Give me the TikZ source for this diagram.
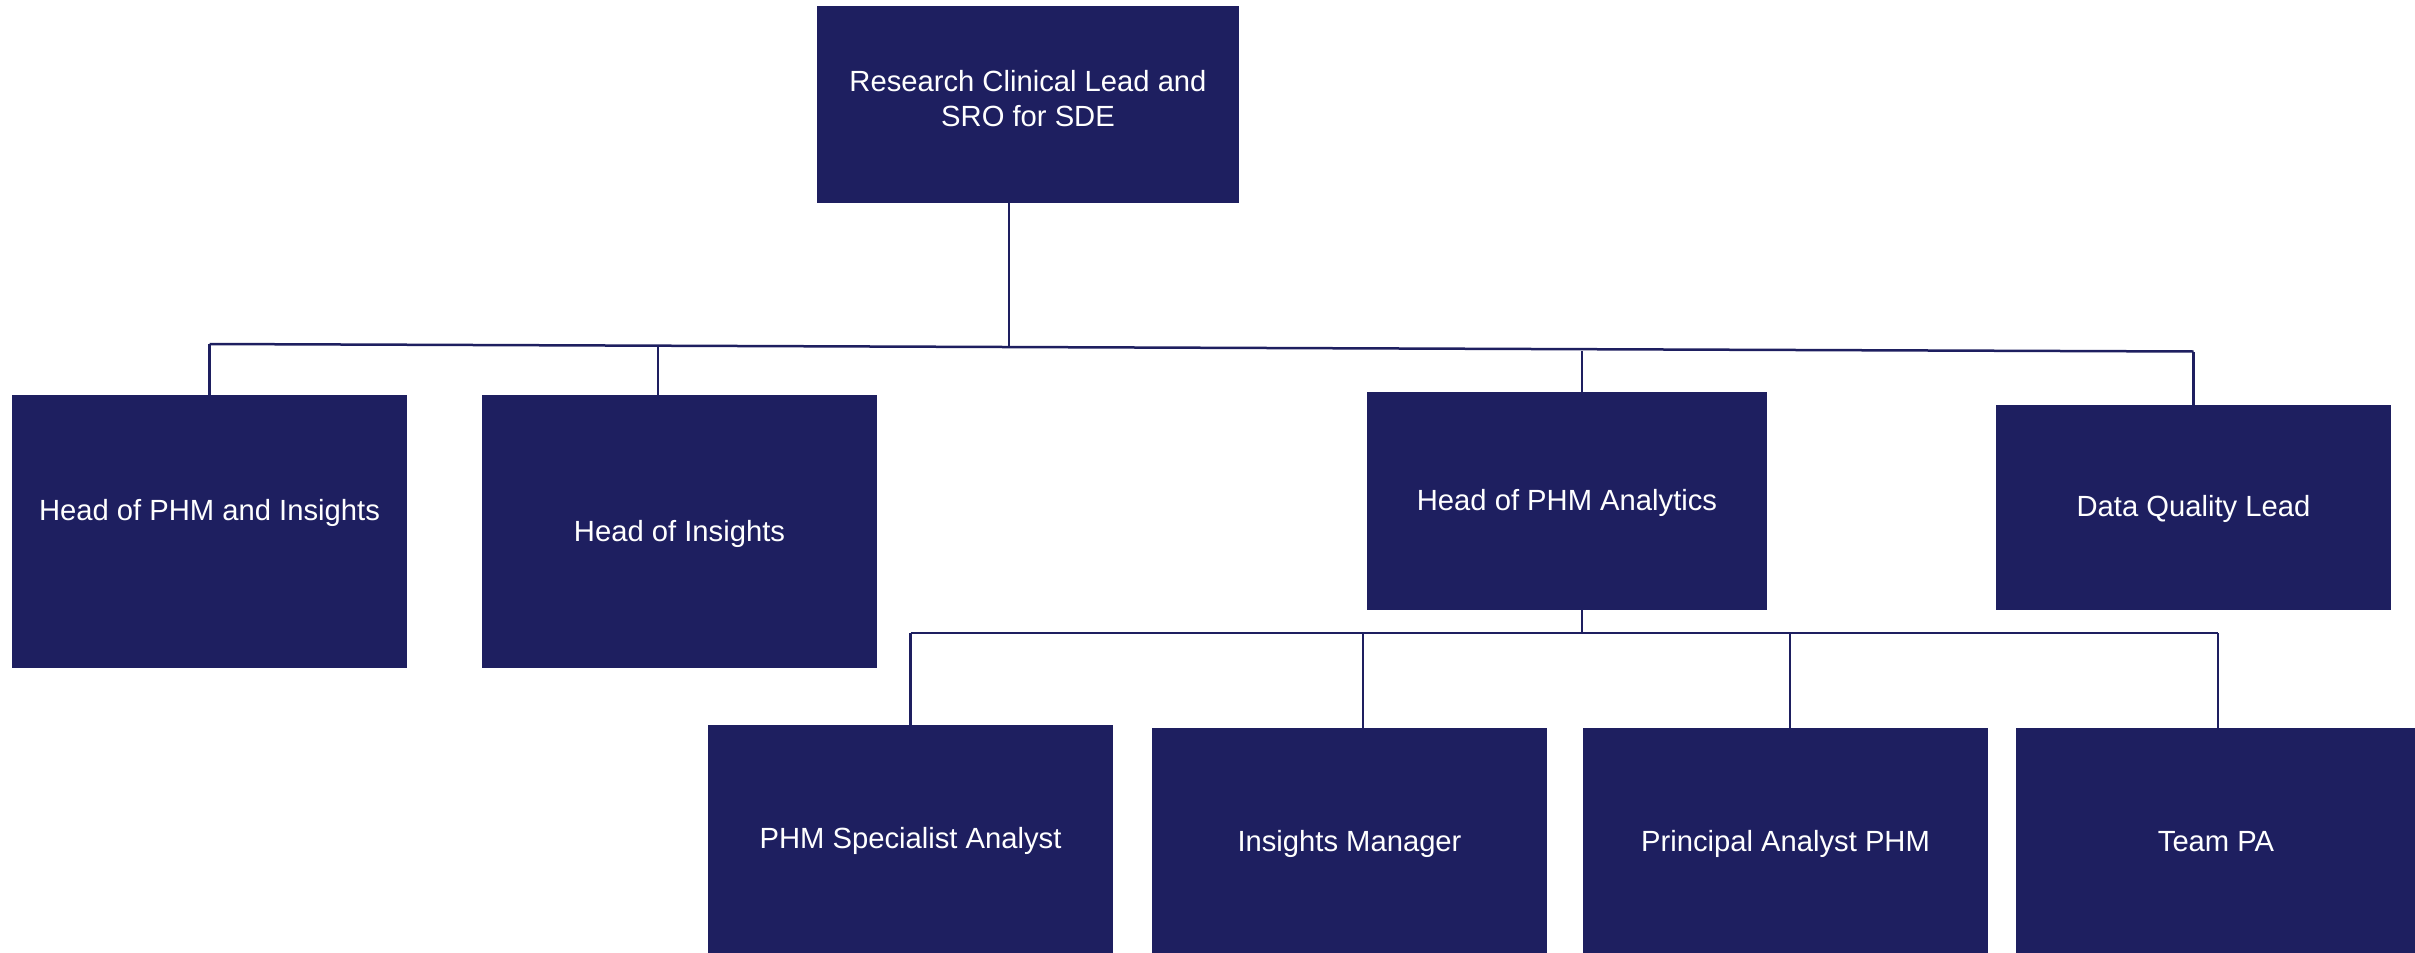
\documentclass[tikz,border=0pt]{standalone}
\usepackage{fontspec}
\setmainfont{Liberation Sans}
\definecolor{navy}{RGB}{30,31,96}
\begin{document}
\begin{tikzpicture}[x=1pt,y=-1pt,
  box/.style={fill=navy, text=white, inner sep=0pt, align=center,
    font=\fontsize{29.2}{35}\selectfont},
  cap/.style={text height=21.4pt, text depth=#1},
  link/.style={draw=navy, line width=2.5pt}]
\useasboundingbox (0,0) rectangle (2415,953);
% boxes
\node[box, minimum width=422pt, minimum height=197pt] (top) at (1028,104.5) {Research Clinical Lead and\\SRO for SDE\rule[-12pt]{0pt}{12pt}};
\node[box, cap=43.4pt, minimum width=395pt, minimum height=273pt] (hpi) at (209.5,531.5) {Head of PHM and Insights};
\node[box, cap=1.4pt, minimum width=395pt, minimum height=273pt] (hi) at (679.5,531.5) {Head of Insights};
\node[box, cap=2.4pt, minimum width=400pt, minimum height=218pt] (hpa) at (1567,501) {Head of PHM Analytics};
\node[box, cap=3.4pt, minimum width=395pt, minimum height=205pt] (dql) at (2193.5,507.5) {Data Quality Lead};
\node[box, cap=4.4pt, minimum width=405pt, minimum height=230pt] (psa) at (910.5,840) {PHM Specialist Analyst};
\node[box, cap=1.4pt, minimum width=395pt, minimum height=227pt] (im) at (1349.5,841.5) {Insights Manager};
\node[box, cap=1.4pt, minimum width=405pt, minimum height=227pt] (pa) at (1785.5,841.5) {Principal Analyst PHM};
\node[box, cap=1.4pt, minimum width=400pt, minimum height=227pt] (tpa) at (2216,841.5) {Team PA};
% upper bus
\coordinate (bL) at (209.5,344);
\coordinate (bT) at (1009,347.5);
\coordinate (bI) at (658,346);
\coordinate (bA) at (1582,350.5);
\coordinate (bR) at (2193.5,351.5);
\draw[link] (bL) -- (bR);
\draw[link] (top.south -| bT) -- (bT);
\draw[link] (hpi.north) -- (bL);
\draw[link] (hi.north -| bI) -- (bI);
\draw[link] (hpa.north -| bA) -- (bA);
\draw[link] (dql.north) -- (bR);
% lower bus
\coordinate (lL) at (910.5,633);
\coordinate (lA) at (1582,633);
\coordinate (lM) at (1363,633);
\coordinate (lP) at (1790,633);
\coordinate (lR) at (2218,633);
\draw[link] (lL) -- (lR);
\draw[link] (hpa.south -| lA) -- (lA);
\draw[link] (psa.north) -- (lL);
\draw[link] (im.north -| lM) -- (lM);
\draw[link] (pa.north -| lP) -- (lP);
\draw[link] (tpa.north -| lR) -- (lR);
\end{tikzpicture}
\end{document}
